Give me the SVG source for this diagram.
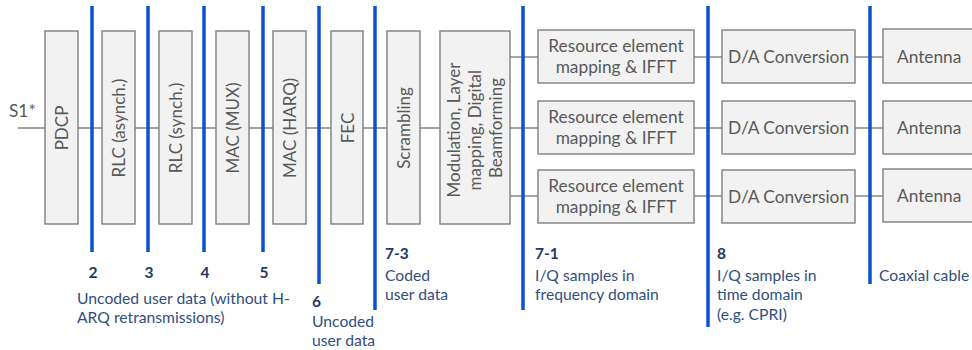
<svg xmlns="http://www.w3.org/2000/svg" width="972" height="350" viewBox="0 0 972 350">
  <style>
    .box { fill: #f2f2f2; stroke: #7f7f7f; stroke-width: 1.4; }
    .wire { stroke: #808080; stroke-width: 1.4; fill: none; }
    .split { stroke: #0b52cc; stroke-width: 3.5; }
    .lbl { font-family: Lato, "Open Sans", sans-serif; font-size: 17.3px; fill: #595959; }
    .vlbl { font-family: Lato, "Open Sans", sans-serif; font-size: 17px; fill: #595959; text-anchor: middle; dominant-baseline: central; }
    .num { font-family: Lato, "Open Sans", sans-serif; font-size: 15.5px; font-weight: bold; fill: #1f3864; }
    .desc { font-family: Lato, "Open Sans", sans-serif; font-size: 15.7px; fill: #2f4f80; }
    .mid { text-anchor: middle; }
  </style>

  <rect width="972" height="350" fill="#ffffff"/>

  <!-- connectors between processing blocks -->
  <g id="connectors">
    <line class="wire" x1="18" y1="128" x2="440" y2="128"/>
    <polyline class="wire" points="510,57 538,57"/>
    <polyline class="wire" points="510,128 538,128"/>
    <polyline class="wire" points="510,196 538,196"/>
    <line class="wire" x1="694" y1="57" x2="722" y2="57"/>
    <line class="wire" x1="694" y1="128" x2="722" y2="128"/>
    <line class="wire" x1="694" y1="196" x2="722" y2="196"/>
    <line class="wire" x1="855" y1="57" x2="883" y2="57"/>
    <line class="wire" x1="855" y1="128" x2="883" y2="128"/>
    <line class="wire" x1="855" y1="196" x2="883" y2="196"/>
  </g>

  <text class="lbl" x="9" y="117">S1*</text>

  <!-- vertical protocol blocks -->
  <g id="pdcp">
    <rect class="box" x="45" y="31" width="33" height="193"/>
    <text class="vlbl" transform="translate(61.5,128) rotate(-90)">PDCP</text>
  </g>
  <g id="rlc-async">
    <rect class="box" x="102" y="31" width="33" height="193"/>
    <text class="vlbl" transform="translate(118.5,128) rotate(-90)">RLC (asynch.)</text>
  </g>
  <g id="rlc-sync">
    <rect class="box" x="159" y="31" width="33" height="193"/>
    <text class="vlbl" transform="translate(175.5,128) rotate(-90)">RLC (synch.)</text>
  </g>
  <g id="mac-mux">
    <rect class="box" x="216" y="31" width="33" height="193"/>
    <text class="vlbl" transform="translate(232.5,128) rotate(-90)">MAC (MUX)</text>
  </g>
  <g id="mac-harq">
    <rect class="box" x="273" y="31" width="33" height="193"/>
    <text class="vlbl" transform="translate(289.5,128) rotate(-90)">MAC (HARQ)</text>
  </g>
  <g id="fec">
    <rect class="box" x="331" y="31" width="32" height="193"/>
    <text class="vlbl" transform="translate(347,128) rotate(-90)">FEC</text>
  </g>
  <g id="scrambling">
    <rect class="box" x="387" y="31" width="33" height="193"/>
    <text class="vlbl" transform="translate(403.5,128) rotate(-90)">Scrambling</text>
  </g>
  <g id="modulation">
    <rect class="box" x="440" y="31" width="70" height="193"/>
    <text class="vlbl" transform="translate(474,128) rotate(-90)">
      <tspan x="0" y="-21">Modulation, Layer</tspan>
      <tspan x="0" y="0">mapping, Digital</tspan>
      <tspan x="0" y="21">Beamforming</tspan>
    </text>
  </g>

  <!-- per-antenna chains -->
  <g id="re-map-1">
    <rect class="box" x="538" y="30" width="156" height="53"/>
    <text class="lbl mid" x="616" y="52">Resource element</text>
    <text class="lbl mid" x="616" y="73">mapping &amp; IFFT</text>
  </g>
  <g id="re-map-2">
    <rect class="box" x="538" y="101" width="156" height="53"/>
    <text class="lbl mid" x="616" y="123">Resource element</text>
    <text class="lbl mid" x="616" y="144">mapping &amp; IFFT</text>
  </g>
  <g id="re-map-3">
    <rect class="box" x="538" y="170" width="156" height="53"/>
    <text class="lbl mid" x="616" y="192">Resource element</text>
    <text class="lbl mid" x="616" y="213">mapping &amp; IFFT</text>
  </g>

  <g id="dac-1">
    <rect class="box" x="722" y="30" width="133" height="53"/>
    <text class="lbl mid" x="788.5" y="63">D/A Conversion</text>
  </g>
  <g id="dac-2">
    <rect class="box" x="722" y="101" width="133" height="53"/>
    <text class="lbl mid" x="788.5" y="134">D/A Conversion</text>
  </g>
  <g id="dac-3">
    <rect class="box" x="722" y="170" width="133" height="53"/>
    <text class="lbl mid" x="788.5" y="203">D/A Conversion</text>
  </g>

  <g id="antenna-1">
    <rect class="box" x="883" y="29" width="100" height="54"/>
    <text class="lbl" x="897" y="63">Antenna</text>
  </g>
  <g id="antenna-2">
    <rect class="box" x="883" y="101" width="100" height="53"/>
    <text class="lbl" x="897" y="134">Antenna</text>
  </g>
  <g id="antenna-3">
    <rect class="box" x="883" y="169" width="100" height="53"/>
    <text class="lbl" x="897" y="202">Antenna</text>
  </g>

  <!-- functional split options -->
  <g id="splits">
    <line class="split" x1="92" y1="6" x2="92" y2="252"/>
    <line class="split" x1="148" y1="6" x2="148" y2="252"/>
    <line class="split" x1="204" y1="6" x2="204" y2="252"/>
    <line class="split" x1="263" y1="6" x2="263" y2="252"/>
    <line class="split" x1="319" y1="6" x2="319" y2="284"/>
    <line class="split" x1="375" y1="6" x2="375" y2="310"/>
    <line class="split" x1="523" y1="6" x2="523" y2="310"/>
    <line class="split" x1="708" y1="6" x2="708" y2="327"/>
    <line class="split" x1="870" y1="6" x2="870" y2="284"/>
  </g>

  <g id="split-labels">
    <text class="num mid" x="93" y="278">2</text>
    <text class="num mid" x="149" y="278">3</text>
    <text class="num mid" x="205" y="278">4</text>
    <text class="num mid" x="264" y="278">5</text>
    <text class="desc" x="77" y="304">Uncoded user data (without H-</text>
    <text class="desc" x="77" y="323">ARQ retransmissions)</text>

    <text class="num" x="312" y="307">6</text>
    <text class="desc" x="312" y="327">Uncoded</text>
    <text class="desc" x="312" y="346">user data</text>

    <text class="num" x="385" y="259">7-3</text>
    <text class="desc" x="385" y="281">Coded</text>
    <text class="desc" x="385" y="300">user data</text>

    <text class="num" x="535" y="259">7-1</text>
    <text class="desc" x="535" y="281">I/Q samples in</text>
    <text class="desc" x="535" y="300">frequency domain</text>

    <text class="num" x="717" y="259">8</text>
    <text class="desc" x="717" y="281">I/Q samples in</text>
    <text class="desc" x="717" y="300">time domain</text>
    <text class="desc" x="717" y="320">(e.g. CPRI)</text>

    <text class="desc" x="879" y="281">Coaxial cable</text>
  </g>
</svg>
